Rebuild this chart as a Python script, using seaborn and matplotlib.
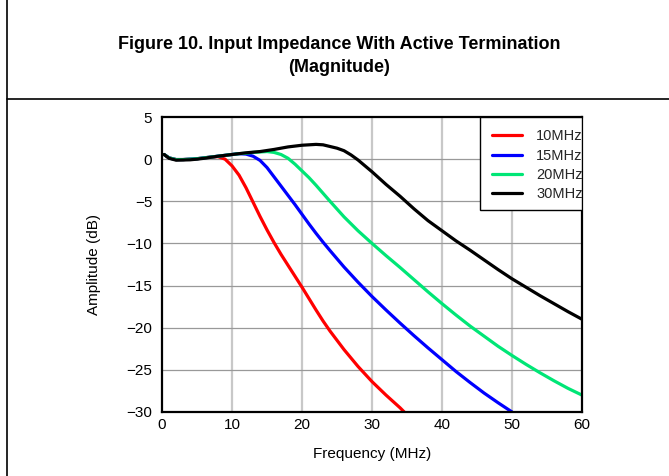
import pandas as pd
import matplotlib
matplotlib.use("Agg")
import matplotlib.pyplot as plt
import seaborn as sns

# values (frequency in MHz, amplitude in dB)
freq_10 = [0.3, 1, 2, 3, 4, 5, 6, 7, 8, 9, 10, 11, 12, 13, 14, 15, 16, 17, 18, 19,
           20, 21, 22, 23, 24, 25, 26, 27, 28, 29, 30, 31, 32, 33, 34, 34.6]
amp_10 = [0.55, 0.15, -0.05, -0.05, 0.0, 0.05, 0.15, 0.25, 0.3, 0.0, -0.8, -1.9, -3.4,
          -5.1, -6.8, -8.4, -9.9, -11.3, -12.6, -13.9, -15.2, -16.55, -17.9, -19.2,
          -20.4, -21.5, -22.6, -23.6, -24.6, -25.5, -26.4, -27.2, -28.0, -28.75,
          -29.5, -30.0]

freq_15 = [0.3, 1, 2, 3, 4, 5, 6, 7, 8, 9, 10, 11, 12, 13, 14, 15, 16, 17, 18, 19,
           20, 21, 22, 23, 24, 26, 28, 30, 32, 34, 36, 38, 40, 42, 44, 46, 48, 50]
amp_15 = [0.55, 0.15, -0.05, -0.05, 0.0, 0.05, 0.15, 0.25, 0.35, 0.45, 0.55, 0.65, 0.6,
          0.35, -0.15, -1.0, -2.1, -3.2, -4.3, -5.4, -6.55, -7.7, -8.8, -9.85, -10.85,
          -12.8, -14.6, -16.3, -17.9, -19.45, -20.95, -22.4, -23.8, -25.2, -26.5,
          -27.75, -28.9, -30.0]

freq_20 = [0.3, 1, 2, 3, 4, 5, 6, 7, 8, 9, 10, 11, 12, 13, 14, 15, 16, 17, 18, 19,
           20, 21, 22, 23, 24, 26, 28, 30, 32, 34, 36, 38, 40, 42, 44, 46, 48, 50,
           52, 54, 56, 58, 60]
amp_20 = [0.55, 0.15, -0.05, -0.05, 0.0, 0.05, 0.15, 0.25, 0.35, 0.45, 0.55, 0.65, 0.7,
          0.8, 0.85, 0.9, 0.8, 0.55, 0.1, -0.6, -1.4, -2.2, -3.1, -4.05, -5.0, -6.85,
          -8.5, -10.0, -11.45, -12.85, -14.3, -15.75, -17.15, -18.5, -19.8, -21.0,
          -22.2, -23.3, -24.35, -25.35, -26.3, -27.2, -28.0]

freq_30 = [0.3, 1, 2, 3, 4, 5, 6, 8, 10, 12, 14, 16, 18, 20, 22, 23, 24, 25, 26, 27,
           28, 29, 30, 32, 34, 36, 38, 40, 42, 44, 46, 48, 50, 52, 54, 56, 58, 60]
amp_30 = [0.55, 0.1, -0.12, -0.1, -0.08, 0.0, 0.1, 0.35, 0.55, 0.75, 0.9, 1.15, 1.45,
          1.65, 1.75, 1.7, 1.5, 1.3, 1.0, 0.5, -0.1, -0.8, -1.5, -3.0, -4.4, -5.9,
          -7.3, -8.5, -9.7, -10.8, -11.95, -13.1, -14.2, -15.2, -16.2, -17.15, -18.1,
          -19.0]

labels = ["10MHz", "15MHz", "20MHz", "30MHz"]
colors = ["#ff0000", "#0000ff", "#00e676", "#000000"]
x_ticks = [0, 10, 20, 30, 40, 50, 60]
y_ticks = [5, 0, -5, -10, -15, -20, -25, -30]

frames = []
for lab, f, a in zip(labels, [freq_10, freq_15, freq_20, freq_30],
                     [amp_10, amp_15, amp_20, amp_30]):
    frames.append(pd.DataFrame({"freq": f, "amp": a, "series": lab}))
df = pd.concat(frames, ignore_index=True)

sns.set_style("white")
plt.rcParams["font.family"] = ["Liberation Sans", "DejaVu Sans"]
plt.rcParams["axes.unicode_minus"] = True

fig = plt.figure(figsize=(6.69, 4.76), dpi=100)
ax = fig.add_axes([0.2422, 0.1345, 0.6278, 0.6197])

sns.lineplot(data=df, x="freq", y="amp", hue="series", palette=colors,
             hue_order=labels, linewidth=2.3, sort=False, ax=ax)

ax.set_xlim(0, 60)
ax.set_ylim(-30, 5)
ax.set_xticks(x_ticks)
ax.set_yticks(y_ticks)
ax.tick_params(length=0, labelsize=11, colors="black")
ax.tick_params(axis="y", pad=7)
ax.tick_params(axis="x", pad=4)
for v in x_ticks[1:-1]:
    ax.axvline(v, color="#c8c8c8", linewidth=1.6, zorder=0)
for v in y_ticks[1:-1]:
    ax.axhline(v, color="#999999", linewidth=0.9, zorder=0)
for s in ax.spines.values():
    s.set_visible(True)
    s.set_color("black")
    s.set_linewidth(1.6)

ax.set_xlabel("Frequency (MHz)", fontsize=11, labelpad=11, color="black")
ax.set_ylabel("Amplitude (dB)", fontsize=11, labelpad=18, color="black")

# legend: the box in the original is narrower than its text, so draw the frame apart
box_left = 0.757
box_bottom = 0.685
ax.add_patch(plt.Rectangle((box_left, box_bottom), 1 - box_left, 1 - box_bottom,
                           transform=ax.transAxes, facecolor="white",
                           edgecolor="black", linewidth=1.0, zorder=5))
leg = ax.legend(loc="upper left", bbox_to_anchor=(box_left, 1), frameon=False,
                fontsize=10.5, borderaxespad=0, handlelength=2.05,
                labelspacing=0.36, borderpad=0.85, handletextpad=0.95)
leg.set_zorder(6)

fig.text(0.507, 0.907, "Figure 10. Input Impedance With Active Termination",
         ha="center", va="center", fontsize=13, fontweight="bold", color="black")
fig.text(0.507, 0.859, "(Magnitude)", ha="center", va="center",
         fontsize=13, fontweight="bold", color="black")

# page frame lines
fig.add_artist(plt.Line2D([0.0105, 0.0105], [0, 1], color="black", linewidth=1.2,
                          transform=fig.transFigure))
fig.add_artist(plt.Line2D([0.0105, 1], [0.792, 0.792], color="black", linewidth=1.2,
                          transform=fig.transFigure))

fig.savefig("out.png", dpi=100)
